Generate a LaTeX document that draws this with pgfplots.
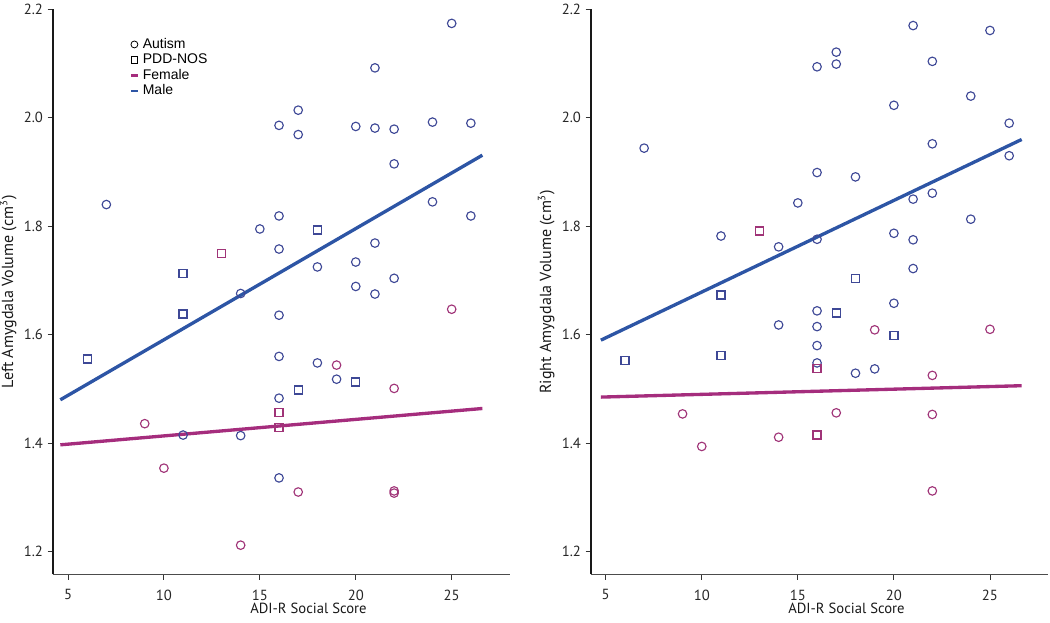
\documentclass[border=0pt]{standalone}
\usepackage{fontspec}
\setmainfont{PT Sans}
\newfontfamily\legfont{Liberation Sans}
\usepackage{pgfplots}
\pgfplotsset{compat=1.18}
\definecolor{ptblue}{RGB}{62,72,150}
\definecolor{ptmag}{RGB}{160,52,120}
\definecolor{lnblue}{RGB}{45,85,165}
\definecolor{lnmag}{RGB}{165,45,125}
\pgfplotsset{
 myaxis/.style={
  scale only axis, width=342.75pt, height=423.75pt,
  ymin=1.1583, ymax=2.2,
  axis x line*=bottom, axis y line*=left,
  x axis line style={-, draw=black!70, line width=1pt},
  y axis line style={-, draw=black!90, line width=0.9pt},
  tick align=outside, major tick length=4pt,
  tick style={black!80, line width=0.7pt},
  xtick={5,10,15,20,25}, ytick={1.2,1.4,1.6,1.8,2.0,2.2},
  yticklabel style={/pgf/number format/.cd, fixed, fixed zerofill, precision=1},
  /pgf/number format/assume math mode=true,
  ticklabel style={font=\fontsize{11}{13}\selectfont, text=black!85},
  xticklabel style={yshift=-4pt},
  xlabel style={font=\fontsize{11}{13}\selectfont, text=black!90, at={(axis description cs:0.559,-0.069)}, anchor=base},
  ylabel style={font=\fontsize{12}{14}\selectfont, text=black!90, at={(axis description cs:-0.098,0.5)}, anchor=center},
  clip=false,
 },
 bc/.style={only marks, mark=o, mark size=3.2pt, color=ptblue, line width=0.85pt},
 mc/.style={only marks, mark=o, mark size=3.2pt, color=ptmag, line width=0.85pt},
 bs/.style={only marks, mark=square, mark size=3pt, color=ptblue, line width=1pt},
 ms/.style={only marks, mark=square, mark size=3pt, color=ptmag, line width=1pt},
 bl/.style={no marks, color=lnblue, line width=2.5pt},
 ml/.style={no marks, color=lnmag, line width=2.5pt},
}
\begin{document}
\begin{tikzpicture}
\path[use as bounding box] (-39.75pt,-36.525pt) rectangle (747.75pt,430.725pt);
\begin{axis}[myaxis, at={(0pt,0pt)}, anchor=south west,
  xmin=4.218, xmax=28.04,
  xlabel={ADI-R Social Score},
  ylabel={Left Amygdala Volume (cm\textsuperscript{3})},
  legend style={legend cell align=left, at={(axis description cs:0.158,0.955)}, anchor=north west,
    draw=none, fill=none, font=\legfont\fontsize{10.5}{12}\selectfont, row sep=1.4pt,
    nodes={inner ysep=0.5pt, inner xsep=2.6pt, text height=7.4pt, text depth=1.8pt}},
]
\addlegendimage{legend image code/.code={\draw[black, line width=0.6pt] (3pt,0pt) circle (2.6pt);}}
\addlegendentry{Autism}
\addlegendimage{legend image code/.code={\draw[black, line width=0.6pt] (0.5pt,-2.5pt) rectangle (5.5pt,2.5pt);}}
\addlegendentry{PDD-NOS}
\addlegendimage{legend image code/.code={\draw[lnmag, line width=2pt] (0.3pt,0pt) -- (5.7pt,0pt);}}
\addlegendentry{Female}
\addlegendimage{legend image code/.code={\draw[lnblue, line width=2pt] (0.3pt,0pt) -- (5.7pt,0pt);}}
\addlegendentry{Male}
\addplot[bc, forget plot] coordinates {(25,2.174) (21,2.092) (17,2.014) (16,1.986) (17,1.969) (20,1.984) (21,1.981) (22,1.979) (24,1.992) (26,1.990) (22,1.915) (7,1.840) (24,1.845) (26,1.819) (16,1.819) (15,1.795) (16,1.758) (21,1.769) (18,1.725) (20,1.734) (22,1.704) (20,1.689) (21,1.675) (14,1.676) (16,1.636) (16,1.560) (18,1.548) (19,1.518) (16,1.483) (11,1.415) (14,1.414) (16,1.336)};
\addplot[bs, forget plot] coordinates {(18,1.793) (11,1.713) (11,1.638) (6,1.555) (20,1.513) (17,1.498)};
\addplot[mc, forget plot] coordinates {(25,1.647) (19,1.544) (22,1.501) (9,1.436) (10,1.354) (17,1.310) (22,1.312) (22,1.308) (14,1.212)};
\addplot[ms, forget plot] coordinates {(13,1.750) (16,1.456) (16,1.429)};
\addplot[bl, forget plot] coordinates {(4.60,1.480) (26.6,1.931)};
\addplot[ml, forget plot] coordinates {(4.60,1.397) (26.6,1.464)};
\end{axis}
\begin{axis}[myaxis, at={(403.5pt,0pt)}, anchor=south west,
  xmin=4.235, xmax=28.02,
  xlabel={ADI-R Social Score},
  ylabel={Right Amygdala Volume (cm\textsuperscript{3})},
]
\addplot[bc] coordinates {(21,2.170) (25,2.161) (17,2.121) (17,2.099) (16,2.094) (22,2.104) (24,2.040) (20,2.023) (26,1.990) (7,1.944) (22,1.952) (26,1.930) (16,1.899) (18,1.891) (15,1.843) (21,1.850) (22,1.861) (24,1.813) (11,1.782) (14,1.762) (16,1.776) (20,1.787) (21,1.775) (21,1.722) (20,1.658) (16,1.644) (14,1.618) (16,1.615) (16,1.580) (16,1.548) (18,1.529) (19,1.537)};
\addplot[bs] coordinates {(18,1.704) (11,1.673) (17,1.640) (20,1.598) (6,1.553) (11,1.562)};
\addplot[mc] coordinates {(19,1.609) (25,1.610) (22,1.525) (9,1.454) (17,1.456) (22,1.453) (14,1.411) (10,1.394) (22,1.312)};
\addplot[ms] coordinates {(13,1.791) (16,1.538) (16,1.415)};
\addplot[bl] coordinates {(4.75,1.590) (26.65,1.960)};
\addplot[ml] coordinates {(4.75,1.485) (26.65,1.506)};
\end{axis}
\end{tikzpicture}
\end{document}
